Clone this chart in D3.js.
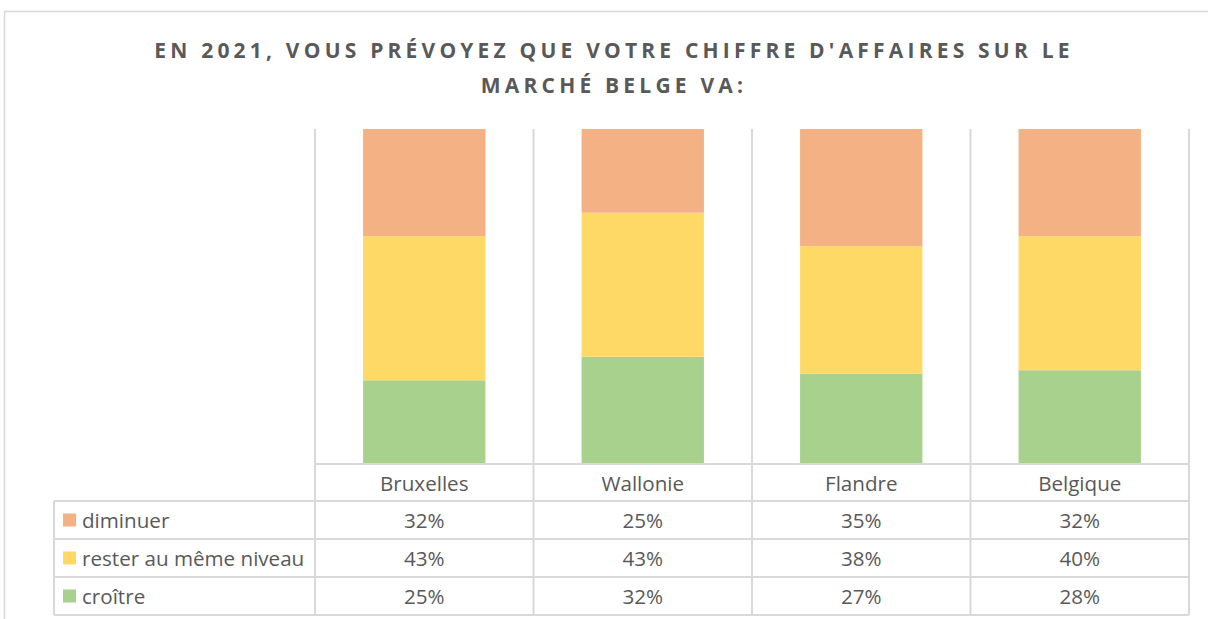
<!DOCTYPE html>
<html>
<head>
<meta charset="utf-8">
<script src="https://cdn.jsdelivr.net/npm/d3@7"></script>
<style>
  body { margin: 0; background: #fff; }
  text { font-family: "Open Sans", sans-serif; fill: #595959; }
</style>
</head>
<body>
<div id="chart"></div>
<script>
// Data
const categories = ["Bruxelles", "Wallonie", "Flandre", "Belgique"];
const seriesNames = ["diminuer", "rester au même niveau", "croître"];
const diminuer = [32, 25, 35, 32];
const rester = [43, 43, 38, 40];
const croitre = [25, 32, 27, 28];
const colors = ["#F4B183", "#FFD966", "#A9D18E"];
const titleLines = ["EN 2021, VOUS PRÉVOYEZ QUE VOTRE CHIFFRE D'AFFAIRES SUR LE", "MARCHÉ BELGE VA:"];

const width = 1208, height = 619;
const grid = "#d9d9d9";
const fontSize = "20.6px";

const svg = d3.select("#chart").append("svg")
  .attr("width", width)
  .attr("height", height);

// outer frame
svg.append("rect")
  .attr("x", 4.5).attr("y", 11.5)
  .attr("width", 1230).attr("height", 640)
  .attr("fill", "none").attr("stroke", grid).attr("stroke-width", 1.5);

// title
const title = svg.append("text")
  .attr("text-anchor", "middle")
  .style("font-weight", "bold")
  .style("font-size", "21px")
  .style("letter-spacing", "4.2px");
titleLines.forEach((t, i) => {
  title.append("tspan").attr("x", 614).attr("y", 58 + i * 35).text(t);
});

// scales
const plotTop = 129, plotBottom = 464;
const x = d3.scaleBand().domain(categories).range([315, 1189]);
const y = d3.scaleLinear().domain([0, 100]).range([plotBottom, plotTop]);

const rows = [diminuer, rester, croitre];
const table = categories.map((c, i) => ({
  cat: c, diminuer: diminuer[i], rester: rester[i], croitre: croitre[i]
}));
const stack = d3.stack().keys(["croitre", "rester", "diminuer"])(table);
const colorByKey = { diminuer: colors[0], rester: colors[1], croitre: colors[2] };

const barW = x.bandwidth() * 0.56;
stack.forEach(layer => {
  svg.append("g").selectAll("rect")
    .data(layer)
    .enter().append("rect")
    .attr("x", d => x(d.data.cat) + (x.bandwidth() - barW) / 2)
    .attr("y", d => y(d[1]))
    .attr("width", barW)
    .attr("height", d => y(d[0]) - y(d[1]))
    .attr("fill", colorByKey[layer.key]);
});

// data table grid
const rowH = 38;
const headerTop = plotBottom, headerBottom = 501;
const tableLeft = 54, tableRight = 1189;
const rowTops = rows.map((r, i) => headerBottom + i * rowH);
const tableBottom = headerBottom + rows.length * rowH;

const lines = svg.append("g").attr("stroke", grid).attr("stroke-width", 2);
// vertical lines at category boundaries
const bounds = categories.map(c => x(c)).concat([x.range()[1]]);
bounds.forEach(bx => {
  lines.append("line").attr("x1", bx).attr("x2", bx).attr("y1", plotTop).attr("y2", tableBottom);
});
lines.append("line").attr("x1", tableLeft).attr("x2", tableLeft).attr("y1", headerBottom).attr("y2", tableBottom);
lines.append("line").attr("x1", x.range()[0]).attr("x2", tableRight).attr("y1", headerTop).attr("y2", headerTop);
rowTops.concat([tableBottom]).forEach(ry => {
  lines.append("line").attr("x1", tableLeft).attr("x2", tableRight).attr("y1", ry).attr("y2", ry);
});

// header labels
svg.append("g").selectAll("text")
  .data(categories)
  .enter().append("text")
  .attr("x", d => x(d) + x.bandwidth() / 2)
  .attr("y", (headerTop + headerBottom) / 2)
  .attr("text-anchor", "middle")
  .attr("dominant-baseline", "central")
  .style("font-size", fontSize)
  .text(d => d);

// table rows
rows.forEach((vals, i) => {
  const cy = rowTops[i] + rowH / 2;
  svg.append("rect")
    .attr("x", 63).attr("y", cy - 6.5)
    .attr("width", 13).attr("height", 13)
    .attr("fill", colors[i]);
  svg.append("text")
    .attr("x", 82).attr("y", cy)
    .attr("dominant-baseline", "central")
    .style("font-size", fontSize)
    .text(seriesNames[i]);
  svg.append("g").selectAll("text")
    .data(vals)
    .enter().append("text")
    .attr("x", (d, j) => x(categories[j]) + x.bandwidth() / 2)
    .attr("y", cy)
    .attr("text-anchor", "middle")
    .attr("dominant-baseline", "central")
    .style("font-size", fontSize)
    .text(d => d + "%");
});
</script>
</body>
</html>
